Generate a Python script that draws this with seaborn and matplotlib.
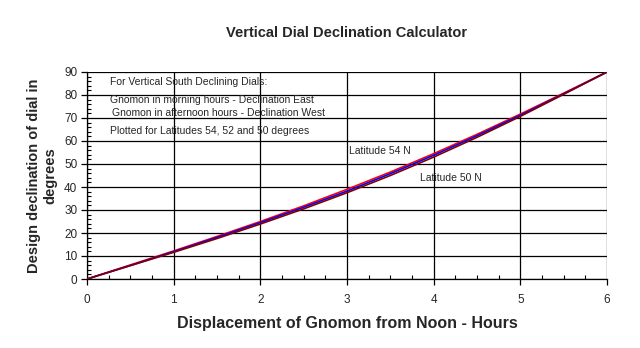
import matplotlib
matplotlib.use("Agg")
import matplotlib.pyplot as plt
import seaborn as sns
import pandas as pd
from matplotlib.ticker import MultipleLocator

hours = [0, 0.5, 1, 1.5, 2, 2.5, 3, 3.5, 4, 4.5, 5, 5.5, 6]
lat54 = [0, 6.1, 12.2, 18.5, 25.0, 31.8, 39.0, 46.5, 54.5, 62.9, 71.7, 80.8, 90]
lat52 = [0, 5.9, 11.9, 18.1, 24.5, 31.2, 38.2, 45.8, 53.8, 62.3, 71.2, 80.5, 90]
lat50 = [0, 5.8, 11.6, 17.6, 23.9, 30.5, 37.5, 45.0, 53.0, 61.6, 70.7, 80.3, 90]
latitudes = ["54", "52", "50"]
colors = ["#FF0000", "#0000FF", "#800000"]

rows = []
for lat, vals in zip(latitudes, [lat54, lat52, lat50]):
    for h, v in zip(hours, vals):
        rows.append({"hours": h, "decl": v, "lat": lat})
df = pd.DataFrame(rows)

sns.set_theme(style="white")
plt.rcParams['font.family'] = ['Liberation Sans', 'DejaVu Sans']

fig = plt.figure(figsize=(6.4, 3.48), dpi=100)
ax = fig.add_axes([87/640, 1 - 279/348, 520/640, 207/348])

sns.lineplot(data=df, x="hours", y="decl", hue="lat", hue_order=latitudes,
             palette=dict(zip(latitudes, colors)), ax=ax, legend=False,
             linewidth=1.2, zorder=3)

ax.set_xlim(0, 6)
ax.set_ylim(0, 90)
ax.xaxis.set_major_locator(MultipleLocator(1))
ax.xaxis.set_minor_locator(MultipleLocator(0.25))
ax.yaxis.set_major_locator(MultipleLocator(10))
ax.yaxis.set_minor_locator(MultipleLocator(2))
ax.grid(True, which="major", color="black", linewidth=0.9, zorder=1)
ax.set_axisbelow(True)
for s in ["top", "right"]:
    ax.spines[s].set_visible(False)
for s in ["left", "bottom"]:
    ax.spines[s].set_color("black")
    ax.spines[s].set_linewidth(0.9)
ax.tick_params(which="major", direction="out", length=4, width=0.9, color="black",
               labelsize=8.5, bottom=True, left=True, pad=3)
ax.tick_params(which="minor", direction="in", length=3, width=0.8, color="black",
               bottom=True, left=True)
ax.tick_params(axis="x", pad=7)

ax.set_xlabel("Displacement of Gnomon from Noon - Hours", fontsize=11.5,
              fontweight="bold", labelpad=7)
ax.set_ylabel("Design declination of dial in\ndegrees", fontsize=10.5,
              fontweight="bold", labelpad=5)
fig.text(347/640, 1 - 33/348, "Vertical Dial Declination Calculator", fontsize=10.5,
         fontweight="bold", ha="center", va="center")

tx = dict(fontsize=7.5, va="center", ha="left")
ax.text(0.265, 85.6, "For Vertical South Declining Dials:", **tx)
ax.text(0.265, 77.8, "Gnomon in morning hours - Declination East", **tx)
ax.text(0.29, 72.2, "Gnomon in afternoon hours - Declination West", **tx)
ax.text(0.265, 64.3, "Plotted for Latitudes 54, 52 and 50 degrees", **tx)
ax.text(3.02, 55.6, "Latitude 54 N", **tx)
ax.text(3.84, 43.9, "Latitude 50 N", **tx)

fig.savefig("out.png", dpi=100, facecolor="white")
